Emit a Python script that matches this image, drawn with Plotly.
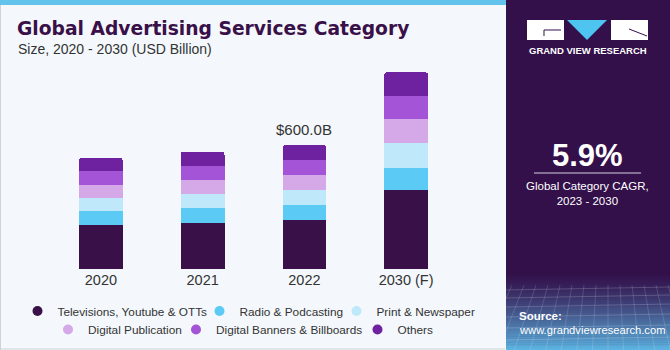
import plotly.graph_objects as go

years = ["2020", "2021", "2022", "2030 (F)"]
series_names = ["Televisions, Youtube & OTTs", "Radio & Podcasting", "Print & Newspaper",
                "Digital Publication", "Digital Banners & Billboards", "Others"]
tv = [211, 225, 238, 380]
radio = [70, 68, 71, 111]
printn = [63, 71, 71, 118]
digpub = [64, 69, 75, 116]
banners = [64, 66, 74, 114]
others = [65, 69, 71, 113]
series_values = [tv, radio, printn, digpub, banners, others]
colors = ["#3a1049", "#5bcbf5", "#bfe9fa", "#d5a8e8", "#a454d6", "#6e22a0"]
highlight_label = "$600.0B"
highlight_year = "2022"
cagr = "5.9%"

W, H = 670, 350
L, R, T, B = 50, 213, 65, 81
PW, PH = W - L - R, H - T - B
YMAX = 987


def X(px):
    return (px - L) / PW


def Y(py):
    return (H - B - py) / PH


FONT = "Liberation Sans"
fig = go.Figure()
for i, (name, vals, col) in enumerate(zip(series_names, series_values, colors)):
    fig.add_trace(go.Bar(
        x=years, y=vals, name=name, marker_color=col,
        marker_line_width=0, showlegend=False,
    ))

# legend entries (round markers), one small legend per entry so the two rows sit like the original
legend_pos = [(17.5, 311), (199.5, 311), (336.5, 311), (48, 329.5), (176, 329.5), (357.5, 329.5)]
legend_layouts = {}
for i, (name, col) in enumerate(zip(series_names, colors)):
    key = "legend" if i == 0 else "legend%d" % (i + 1)
    fig.add_trace(go.Scatter(
        x=[None], y=[None], mode="markers", name=name,
        marker=dict(color=col, size=10, symbol="circle"),
        legend=key,
    ))
    lx, ly = legend_pos[i]
    legend_layouts[key] = dict(orientation="h", xref="container", yref="container", x=lx / W, xanchor="left",
                               y=1 - ly / H, yanchor="middle",
                               font=dict(size=11.8, color="#333333"), bgcolor="rgba(0,0,0,0)")

shapes = []
shapes.append(dict(type="rect", xref="paper", yref="paper", x0=X(0), x1=X(505), y0=Y(350), y1=Y(0),
                   fillcolor="#f4f8fc", line_width=0))
shapes.append(dict(type="line", xref="paper", yref="paper", x0=X(0.5), x1=X(0.5), y0=Y(350), y1=Y(0),
                   line=dict(color="#cfd3d8", width=1)))
shapes.append(dict(type="line", xref="paper", yref="paper", x0=X(0), x1=X(505), y0=Y(349), y1=Y(349),
                   line=dict(color="#cfd3d8", width=1)))
shapes.append(dict(type="rect", xref="paper", yref="paper", x0=X(0), x1=X(506), y0=Y(5), y1=Y(0),
                   fillcolor="#62c3ec", line_width=0))
shapes.append(dict(type="rect", xref="paper", yref="paper", x0=X(506), x1=X(670), y0=Y(350), y1=Y(0),
                   fillcolor="#33104a", line_width=0))
c0 = (0x33, 0x10, 0x4a)
c1 = (0x5c, 0xb4, 0xe2)
n = 40
y_start, y_end = 272, 350
for k in range(n):
    t = (k + 0.5) / n
    t2 = t ** 1.3
    c = tuple(int(c0[j] + (c1[j] - c0[j]) * t2) for j in range(3))
    ya = y_start + (y_end - y_start) * k / n
    yb = y_start + (y_end - y_start) * (k + 1) / n
    shapes.append(dict(type="rect", xref="paper", yref="paper", x0=X(506), x1=X(670), y0=Y(yb + 0.5), y1=Y(ya),
                       fillcolor="rgb(%d,%d,%d)" % c, line_width=0))
for gy in [290, 298, 307, 317, 328, 340]:
    shapes.append(dict(type="line", xref="paper", yref="paper", x0=X(506), x1=X(670), y0=Y(gy), y1=Y(gy - 3),
                       line=dict(color="rgba(255,255,255,0.18)", width=1)))
for gx in range(512, 670, 12):
    shapes.append(dict(type="line", xref="paper", yref="paper", x0=X(gx), x1=X(gx - 6 + (gx - 588) * 0.3),
                       y0=Y(285), y1=Y(350), line=dict(color="rgba(255,255,255,0.15)", width=1)))
# logo
shapes.append(dict(type="rect", xref="paper", yref="paper", x0=X(527), x1=X(564), y0=Y(40), y1=Y(20),
                   fillcolor="white", line_width=0))
shapes.append(dict(type="path", xref="paper", yref="paper",
                   path="M %f,%f L %f,%f L %f,%f" % (X(561), Y(30), X(544), Y(30), X(544), Y(36)),
                   line=dict(color="#33104a", width=1)))
shapes.append(dict(type="path", xref="paper", yref="paper",
                   path="M %f,%f L %f,%f L %f,%f Z" % (X(567), Y(20), X(607), Y(20), X(587), Y(40)),
                   fillcolor="#4ec4f1", line_width=0))
shapes.append(dict(type="rect", xref="paper", yref="paper", x0=X(611), x1=X(648), y0=Y(40), y1=Y(20),
                   fillcolor="white", line_width=0))
shapes.append(dict(type="line", xref="paper", yref="paper", x0=X(629), x1=X(647), y0=Y(29), y1=Y(36),
                   line=dict(color="#33104a", width=1)))
shapes.append(dict(type="line", xref="paper", yref="paper", x0=X(534), x1=X(641), y0=Y(173), y1=Y(173),
                   line=dict(color="#d8d0e0", width=1)))

annotations = [
    dict(text="<b>Global Advertising Services Category</b>", x=X(15), y=Y(29), xanchor="left", yanchor="middle",
         font=dict(family="DejaVu Sans", size=18.7, color="#3a1049")),
    dict(text="Size, 2020 - 2030 (USD Billion)", x=X(16), y=Y(49), xanchor="left", yanchor="middle",
         font=dict(family=FONT, size=14, color="#333333")),
    dict(text="<b>GRAND VIEW RESEARCH</b>", x=X(587.5), y=Y(50.5), xanchor="center", yanchor="middle",
         font=dict(family=FONT, size=9.5, color="white")),
    dict(text="<b>" + cagr + "</b>", x=X(587), y=Y(155), xanchor="center", yanchor="middle",
         font=dict(family=FONT, size=31, color="white")),
    dict(text="Global Category CAGR,<br>2023 - 2030", x=X(587), y=Y(193.5), xanchor="center", yanchor="middle",
         font=dict(family=FONT, size=11.5, color="white")),
    dict(text="<b>Source:</b>", x=X(517), y=Y(316), xanchor="left", yanchor="middle",
         font=dict(family=FONT, size=11.5, color="white")),
    dict(text="www.grandviewresearch.com", x=X(517), y=Y(330), xanchor="left", yanchor="middle",
         font=dict(family=FONT, size=11.2, color="white")),
]
hi = years.index(highlight_year)
total_hi = sum(v[hi] for v in series_values)
annotations.append(dict(text=highlight_label, x=hi, y=total_hi, xref="x", yref="y",
                        xanchor="center", yanchor="bottom", yshift=5,
                        font=dict(family=FONT, size=15, color="#333333")))
for a in annotations:
    a.setdefault("xref", "paper")
    a.setdefault("yref", "paper")
    a["showarrow"] = False

for s in shapes:
    s.setdefault("layer", "below")

fig.update_layout(
    width=W, height=H, margin=dict(l=L, r=R, t=T, b=B, autoexpand=False),
    paper_bgcolor="#f4f8fc", plot_bgcolor="rgba(0,0,0,0)",
    barmode="stack", bargap=0.57, barcornerradius=3,
    font=dict(family=FONT, color="#333333"),
    xaxis=dict(type="category", range=[-0.5, len(years) - 0.5], showgrid=False, zeroline=False,
               showline=False, ticks="", tickfont=dict(size=14.5, color="#333333")),
    yaxis=dict(range=[0, YMAX], visible=False),
    shapes=shapes, annotations=annotations,
    **legend_layouts,
)
fig.write_html("out.html")
